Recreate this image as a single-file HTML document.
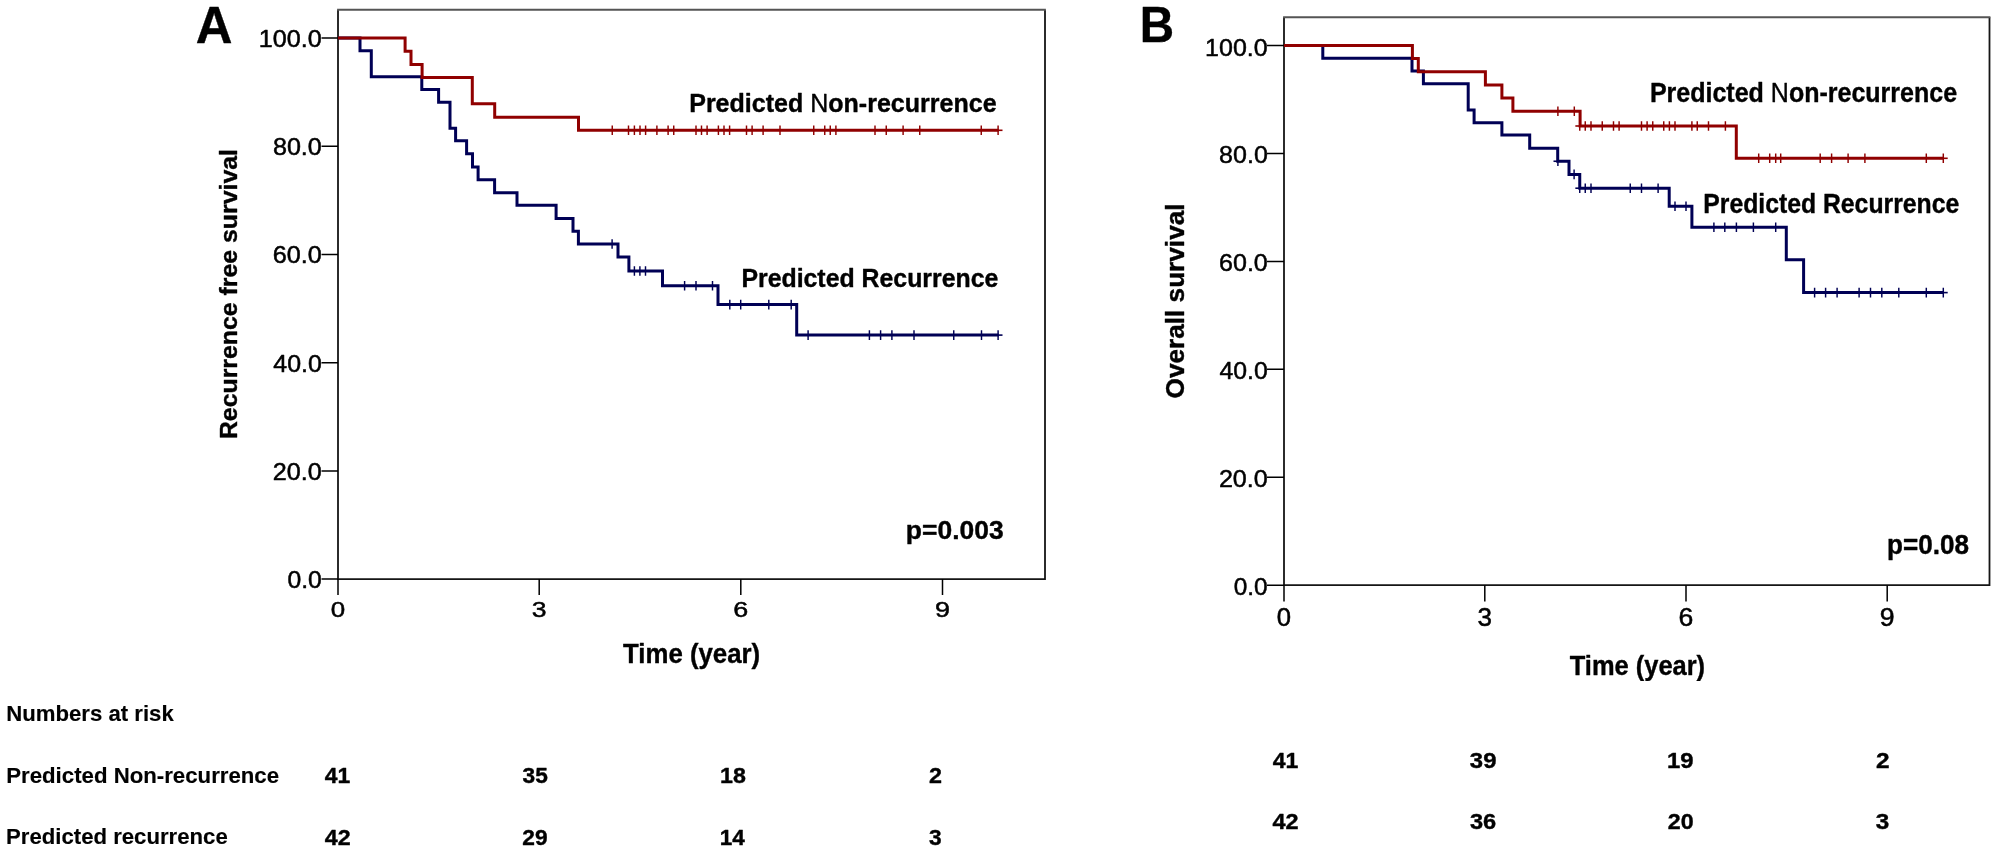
<!DOCTYPE html>
<html><head><meta charset="utf-8"><title>Kaplan-Meier curves</title>
<style>
html,body{margin:0;padding:0;background:#fff;}
body{width:2000px;height:852px;overflow:hidden;}
svg{display:block;}
text{font-family:"Liberation Sans",sans-serif;}
</style></head><body>
<svg width="2000" height="852" viewBox="0 0 2000 852">
<rect x="0" y="0" width="2000" height="852" fill="#fff"/>
<path d="M338.0,10.0V579.1H1045.0V10.0" fill="none" stroke="#151515" stroke-width="1.8"/>
<path d="M337.1,9.8H1045.9" fill="none" stroke="#555" stroke-width="1.9"/>
<path d="M321.5,38.10H338.0 M321.5,146.30H338.0 M321.5,254.50H338.0 M321.5,362.70H338.0 M321.5,470.90H338.0 M321.5,579.10H338.0" stroke="#000000" stroke-width="1.5"/>
<path d="M338.00,579.1V595 M539.20,579.1V595 M740.80,579.1V595 M942.50,579.1V595" stroke="#000000" stroke-width="1.5"/>
<path d="M338.00,38.10H360.00V50.70H371.30V76.70H421.80V89.60H438.60V102.30H450.00V128.20H455.60V140.80H466.60V153.80H472.50V166.90H478.10V179.80H494.60V192.70H517.00V205.30H556.10V218.40H573.00V231.30H578.40V244.00H618.00V256.90H628.90V271.00H662.50V285.80H718.00V304.60H796.70V335.10H998.60" stroke="#000055" stroke-width="3.0" fill="none" stroke-linejoin="miter" stroke-linecap="butt"/>
<path d="M338.00,38.10H405.10V51.30H411.00V64.40H422.10V77.50H472.30V103.80H494.70V117.20H578.50V130.30H998.60" stroke="#900000" stroke-width="3.0" fill="none" stroke-linejoin="miter" stroke-linecap="butt"/>
<path d="M612.25,125.50V135.10 M628.50,125.50V135.10 M634.40,125.50V135.10 M640.00,125.50V135.10 M645.60,125.50V135.10 M656.90,125.50V135.10 M668.10,125.50V135.10 M673.75,125.50V135.10 M696.00,125.50V135.10 M701.50,125.50V135.10 M707.10,125.50V135.10 M718.40,125.50V135.10 M724.00,125.50V135.10 M729.60,125.50V135.10 M746.50,125.50V135.10 M752.10,125.50V135.10 M763.10,125.50V135.10 M780.00,125.50V135.10 M813.75,125.50V135.10 M824.75,125.50V135.10 M830.25,125.50V135.10 M835.90,125.50V135.10 M875.00,125.50V135.10 M886.25,125.50V135.10 M903.10,125.50V135.10 M919.75,125.50V135.10 M981.25,125.50V135.10 M998.10,125.50V135.10" stroke="#900000" stroke-width="1.45" fill="none"/>
<path d="M993.70,130.30H1002.50" stroke="#900000" stroke-width="1.6" fill="none"/>
<path d="M612.10,239.20V248.80" stroke="#000055" stroke-width="1.45" fill="none"/>
<path d="M634.40,266.20V275.80 M639.90,266.20V275.80 M645.50,266.20V275.80" stroke="#000055" stroke-width="1.45" fill="none"/>
<path d="M684.60,281.00V290.60 M696.00,281.00V290.60 M712.50,281.00V290.60" stroke="#000055" stroke-width="1.45" fill="none"/>
<path d="M729.80,299.80V309.40 M740.70,299.80V309.40 M768.80,299.80V309.40 M791.20,299.80V309.40" stroke="#000055" stroke-width="1.45" fill="none"/>
<path d="M808.10,330.30V339.90 M869.40,330.30V339.90 M880.60,330.30V339.90 M891.90,330.30V339.90 M914.00,330.30V339.90 M953.75,330.30V339.90 M981.50,330.30V339.90 M998.10,330.30V339.90" stroke="#000055" stroke-width="1.45" fill="none"/>
<path d="M993.70,335.10H1002.50" stroke="#000055" stroke-width="1.6" fill="none"/>
<path d="M1284.0,17.3V585.2H1989.5V17.3" fill="none" stroke="#151515" stroke-width="1.8"/>
<path d="M1283.1,17.3H1990.4" fill="none" stroke="#555" stroke-width="1.9"/>
<path d="M1267,45.50H1284.0 M1267,153.44H1284.0 M1267,261.38H1284.0 M1267,369.32H1284.0 M1267,477.26H1284.0 M1267,585.20H1284.0" stroke="#000000" stroke-width="1.5"/>
<path d="M1284.00,585.2V601.5 M1484.80,585.2V601.5 M1686.00,585.2V601.5 M1887.20,585.2V601.5" stroke="#000000" stroke-width="1.5"/>
<path d="M1284.00,45.50H1322.80V58.20H1412.00V71.10H1423.40V83.80H1468.20V109.90H1474.10V122.80H1501.90V135.10H1529.70V148.20H1557.70V161.25H1569.00V174.40H1579.75V188.20H1669.20V206.30H1691.90V227.20H1786.30V259.70H1803.60V292.60H1943.80" stroke="#000055" stroke-width="3.0" fill="none" stroke-linejoin="miter" stroke-linecap="butt"/>
<path d="M1284.00,45.50H1412.40V58.60H1418.30V71.70H1485.40V84.90H1501.90V98.10H1512.90V111.30H1580.10V126.00H1736.30V158.30H1943.80" stroke="#900000" stroke-width="3.0" fill="none" stroke-linejoin="miter" stroke-linecap="butt"/>
<path d="M1557.90,106.50V116.10 M1574.30,106.50V116.10" stroke="#900000" stroke-width="1.45" fill="none"/>
<path d="M1579.75,121.20V130.80 M1585.25,121.20V130.80 M1591.00,121.20V130.80 M1602.25,121.20V130.80 M1613.50,121.20V130.80 M1619.10,121.20V130.80 M1641.50,121.20V130.80 M1647.10,121.20V130.80 M1652.75,121.20V130.80 M1663.75,121.20V130.80 M1669.40,121.20V130.80 M1675.00,121.20V130.80 M1691.90,121.20V130.80 M1697.25,121.20V130.80 M1708.50,121.20V130.80 M1725.40,121.20V130.80" stroke="#900000" stroke-width="1.45" fill="none"/>
<path d="M1575.35,126.00H1584.15" stroke="#900000" stroke-width="1.6" fill="none"/>
<path d="M1758.70,153.50V163.10 M1769.70,153.50V163.10 M1775.70,153.50V163.10 M1780.70,153.50V163.10 M1820.20,153.50V163.10 M1831.60,153.50V163.10 M1848.10,153.50V163.10 M1864.90,153.50V163.10 M1926.30,153.50V163.10 M1943.30,153.50V163.10" stroke="#900000" stroke-width="1.45" fill="none"/>
<path d="M1938.90,158.30H1947.70" stroke="#900000" stroke-width="1.6" fill="none"/>
<path d="M1557.90,156.45V166.05" stroke="#000055" stroke-width="1.45" fill="none"/>
<path d="M1553.50,161.25H1562.30" stroke="#000055" stroke-width="1.6" fill="none"/>
<path d="M1574.10,169.60V179.20" stroke="#000055" stroke-width="1.45" fill="none"/>
<path d="M1579.75,183.40V193.00 M1585.25,183.40V193.00 M1591.00,183.40V193.00 M1630.25,183.40V193.00 M1641.50,183.40V193.00 M1658.10,183.40V193.00" stroke="#000055" stroke-width="1.45" fill="none"/>
<path d="M1575.35,188.20H1584.15" stroke="#000055" stroke-width="1.6" fill="none"/>
<path d="M1675.00,201.50V211.10 M1686.00,201.50V211.10" stroke="#000055" stroke-width="1.45" fill="none"/>
<path d="M1713.90,222.40V232.00 M1724.80,222.40V232.00 M1736.40,222.40V232.00 M1753.40,222.40V232.00 M1775.70,222.40V232.00" stroke="#000055" stroke-width="1.45" fill="none"/>
<path d="M1814.60,287.80V297.40 M1825.60,287.80V297.40 M1837.10,287.80V297.40 M1859.10,287.80V297.40 M1870.50,287.80V297.40 M1881.80,287.80V297.40 M1898.80,287.80V297.40 M1926.30,287.80V297.40 M1943.30,287.80V297.40" stroke="#000055" stroke-width="1.45" fill="none"/>
<path d="M1938.90,292.60H1947.70" stroke="#000055" stroke-width="1.6" fill="none"/>
<g fill="#000" stroke="#000" stroke-linejoin="round" opacity="0.999">
<text x="195.64" y="42.54" font-size="51.02" font-weight="bold" textLength="36.70" lengthAdjust="spacingAndGlyphs" stroke-width="0.4">A</text>
<text x="258.77" y="46.64" font-size="23.40" font-weight="normal" textLength="63.00" lengthAdjust="spacingAndGlyphs" stroke-width="0.5">100.0</text>
<text x="272.91" y="154.64" font-size="23.40" font-weight="normal" textLength="48.91" lengthAdjust="spacingAndGlyphs" stroke-width="0.5">80.0</text>
<text x="272.77" y="262.64" font-size="23.40" font-weight="normal" textLength="49.05" lengthAdjust="spacingAndGlyphs" stroke-width="0.5">60.0</text>
<text x="273.37" y="371.64" font-size="23.40" font-weight="normal" textLength="48.50" lengthAdjust="spacingAndGlyphs" stroke-width="0.5">40.0</text>
<text x="272.82" y="479.64" font-size="23.40" font-weight="normal" textLength="48.98" lengthAdjust="spacingAndGlyphs" stroke-width="0.5">20.0</text>
<text x="287.41" y="587.64" font-size="23.40" font-weight="normal" textLength="34.34" lengthAdjust="spacingAndGlyphs" stroke-width="0.5">0.0</text>
<text x="330.69" y="617.17" font-size="22.82" font-weight="normal" textLength="14.41" lengthAdjust="spacingAndGlyphs" stroke-width="0.5">0</text>
<text x="531.87" y="616.70" font-size="22.82" font-weight="normal" textLength="14.76" lengthAdjust="spacingAndGlyphs" stroke-width="0.5">3</text>
<text x="733.24" y="616.71" font-size="22.82" font-weight="normal" textLength="14.98" lengthAdjust="spacingAndGlyphs" stroke-width="0.5">6</text>
<text x="935.05" y="617.03" font-size="22.82" font-weight="normal" textLength="14.97" lengthAdjust="spacingAndGlyphs" stroke-width="0.5">9</text>
<text x="623.05" y="662.80" font-size="27.03" font-weight="bold" textLength="137.03" lengthAdjust="spacingAndGlyphs" stroke-width="0.4">Time (year)</text>
<text x="905.88" y="539.00" font-size="25.58" font-weight="bold" textLength="97.74" lengthAdjust="spacingAndGlyphs" stroke-width="0.4">p=0.003</text>
<text x="689.19" y="111.54" font-size="25.15" font-weight="bold" textLength="307.41" lengthAdjust="spacingAndGlyphs" stroke-width="0.4">Predicted <tspan font-weight="normal">N</tspan>on-recurrence</text>
<text x="741.42" y="286.54" font-size="25.44" font-weight="bold" textLength="256.90" lengthAdjust="spacingAndGlyphs" stroke-width="0.4">Predicted Recurrence</text>
<text transform="translate(236.97,439.10) rotate(-90)" x="0" y="0" font-size="23.98" font-weight="bold" textLength="290.08" lengthAdjust="spacingAndGlyphs" stroke-width="0.4">Recurrence free survival</text>
<text x="1139.84" y="41.54" font-size="50.29" font-weight="bold" textLength="34.36" lengthAdjust="spacingAndGlyphs" stroke-width="0.4">B</text>
<text x="1205.11" y="55.64" font-size="24.71" font-weight="normal" textLength="62.56" lengthAdjust="spacingAndGlyphs" stroke-width="0.5">100.0</text>
<text x="1219.12" y="163.04" font-size="24.71" font-weight="normal" textLength="48.70" lengthAdjust="spacingAndGlyphs" stroke-width="0.5">80.0</text>
<text x="1219.00" y="271.44" font-size="24.71" font-weight="normal" textLength="48.82" lengthAdjust="spacingAndGlyphs" stroke-width="0.5">60.0</text>
<text x="1219.54" y="378.84" font-size="24.71" font-weight="normal" textLength="48.28" lengthAdjust="spacingAndGlyphs" stroke-width="0.5">40.0</text>
<text x="1218.90" y="487.24" font-size="24.71" font-weight="normal" textLength="48.92" lengthAdjust="spacingAndGlyphs" stroke-width="0.5">20.0</text>
<text x="1233.75" y="594.74" font-size="24.71" font-weight="normal" textLength="33.88" lengthAdjust="spacingAndGlyphs" stroke-width="0.5">0.0</text>
<text x="1276.78" y="625.55" font-size="24.85" font-weight="normal" textLength="14.30" lengthAdjust="spacingAndGlyphs" stroke-width="0.5">0</text>
<text x="1477.62" y="625.67" font-size="24.85" font-weight="normal" textLength="14.49" lengthAdjust="spacingAndGlyphs" stroke-width="0.5">3</text>
<text x="1678.47" y="625.97" font-size="24.85" font-weight="normal" textLength="14.81" lengthAdjust="spacingAndGlyphs" stroke-width="0.5">6</text>
<text x="1879.77" y="625.87" font-size="24.85" font-weight="normal" textLength="14.81" lengthAdjust="spacingAndGlyphs" stroke-width="0.5">9</text>
<text x="1569.79" y="674.60" font-size="27.91" font-weight="bold" textLength="135.30" lengthAdjust="spacingAndGlyphs" stroke-width="0.4">Time (year)</text>
<text x="1887.08" y="554.30" font-size="27.18" font-weight="bold" textLength="81.94" lengthAdjust="spacingAndGlyphs" stroke-width="0.4">p=0.08</text>
<text x="1649.92" y="101.54" font-size="27.33" font-weight="bold" textLength="307.18" lengthAdjust="spacingAndGlyphs" stroke-width="0.4">Predicted <tspan font-weight="normal">N</tspan>on-recurrence</text>
<text x="1703.29" y="212.54" font-size="26.89" font-weight="bold" textLength="255.94" lengthAdjust="spacingAndGlyphs" stroke-width="0.4">Predicted Recurrence</text>
<text transform="translate(1184.07,398.40) rotate(-90)" x="0" y="0" font-size="25.15" font-weight="bold" textLength="194.90" lengthAdjust="spacingAndGlyphs" stroke-width="0.4">Overall survival</text>
<text x="6.26" y="721.42" font-size="21.88" font-weight="bold" textLength="167.52" lengthAdjust="spacingAndGlyphs" stroke-width="0.15">Numbers at risk</text>
<text x="6.23" y="783.42" font-size="21.58" font-weight="bold" textLength="272.85" lengthAdjust="spacingAndGlyphs" stroke-width="0.15">Predicted Non-recurrence</text>
<text x="6.07" y="844.42" font-size="22.17" font-weight="bold" textLength="221.66" lengthAdjust="spacingAndGlyphs" stroke-width="0.15">Predicted recurrence</text>
<text x="324.80" y="782.54" font-size="21.51" font-weight="bold" textLength="25.49" lengthAdjust="spacingAndGlyphs" stroke-width="0.4">41</text>
<text x="522.56" y="782.54" font-size="21.51" font-weight="bold" textLength="25.22" lengthAdjust="spacingAndGlyphs" stroke-width="0.4">35</text>
<text x="720.03" y="782.54" font-size="21.51" font-weight="bold" textLength="25.81" lengthAdjust="spacingAndGlyphs" stroke-width="0.4">18</text>
<text x="928.90" y="782.54" font-size="21.51" font-weight="bold" textLength="12.97" lengthAdjust="spacingAndGlyphs" stroke-width="0.4">2</text>
<text x="324.75" y="844.54" font-size="21.51" font-weight="bold" textLength="25.84" lengthAdjust="spacingAndGlyphs" stroke-width="0.4">42</text>
<text x="522.34" y="844.54" font-size="21.51" font-weight="bold" textLength="25.28" lengthAdjust="spacingAndGlyphs" stroke-width="0.4">29</text>
<text x="719.82" y="844.54" font-size="21.51" font-weight="bold" textLength="25.07" lengthAdjust="spacingAndGlyphs" stroke-width="0.4">14</text>
<text x="928.96" y="844.54" font-size="21.51" font-weight="bold" textLength="12.61" lengthAdjust="spacingAndGlyphs" stroke-width="0.4">3</text>
<text x="1272.73" y="767.54" font-size="21.29" font-weight="bold" textLength="25.62" lengthAdjust="spacingAndGlyphs" stroke-width="0.4">41</text>
<text x="1469.86" y="767.54" font-size="21.29" font-weight="bold" textLength="26.55" lengthAdjust="spacingAndGlyphs" stroke-width="0.4">39</text>
<text x="1666.93" y="767.54" font-size="21.29" font-weight="bold" textLength="26.51" lengthAdjust="spacingAndGlyphs" stroke-width="0.4">19</text>
<text x="1875.91" y="767.54" font-size="21.29" font-weight="bold" textLength="13.56" lengthAdjust="spacingAndGlyphs" stroke-width="0.4">2</text>
<text x="1272.48" y="829.04" font-size="22.31" font-weight="bold" textLength="26.11" lengthAdjust="spacingAndGlyphs" stroke-width="0.4">42</text>
<text x="1469.93" y="829.08" font-size="22.31" font-weight="bold" textLength="26.26" lengthAdjust="spacingAndGlyphs" stroke-width="0.4">36</text>
<text x="1667.72" y="829.04" font-size="22.31" font-weight="bold" textLength="25.86" lengthAdjust="spacingAndGlyphs" stroke-width="0.4">20</text>
<text x="1875.88" y="829.06" font-size="22.31" font-weight="bold" textLength="13.50" lengthAdjust="spacingAndGlyphs" stroke-width="0.4">3</text>
</g>
</svg>
</body></html>
